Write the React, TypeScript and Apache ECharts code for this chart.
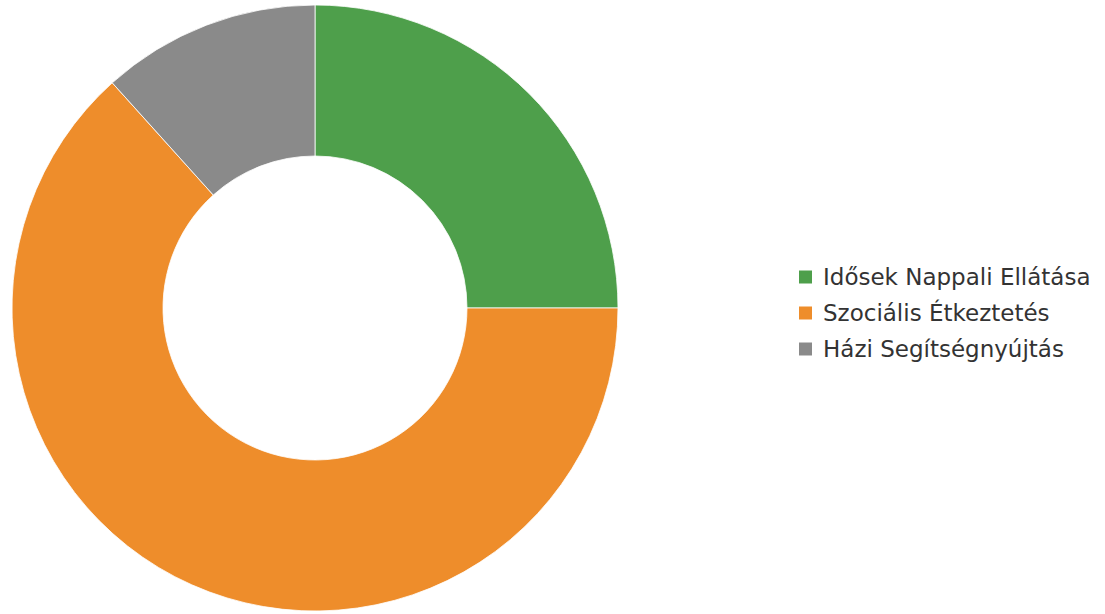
import React, { useEffect, useRef } from "react";
import * as echarts from "echarts";

const categories = ["Idősek Nappali Ellátása", "Szociális Étkeztetés", "Házi Segítségnyújtás"];
const values = [30, 76, 14];
const colors = ["#4e9f4b", "#ee8d2b", "#8a8a8a"];

export default function App() {
  const ref = useRef<HTMLDivElement>(null);
  useEffect(() => {
    if (!ref.current) return;
    const chart = echarts.init(ref.current, null, { renderer: "svg" });
    chart.setOption({
      animation: false,
      backgroundColor: "#ffffff",
      color: colors,
      legend: {
        orient: "vertical",
        left: 797,
        top: 264,
        padding: 0,
        itemWidth: 15,
        itemHeight: 15,
        itemGap: 10,
        icon: "rect",
        textStyle: {
          fontSize: 23,
          lineHeight: 26,
          color: "#333333",
          fontFamily: "DejaVu Sans, sans-serif",
          padding: [0, 0, 0, 5],
        },
        data: categories,
      },
      series: [
        {
          type: "pie",
          center: [315, 308],
          radius: [152, 303],
          startAngle: 90,
          clockwise: true,
          label: { show: false },
          labelLine: { show: false },
          itemStyle: { borderColor: "#ffffff", borderWidth: 0.8 },
          emphasis: { disabled: true },
          data: categories.map((name, i) => ({ name, value: values[i] })),
        },
      ],
    });
    return () => chart.dispose();
  }, []);
  return <div ref={ref} style={{ position: "fixed", left: 0, top: 0, width: 1105, height: 614 }} />;
}
